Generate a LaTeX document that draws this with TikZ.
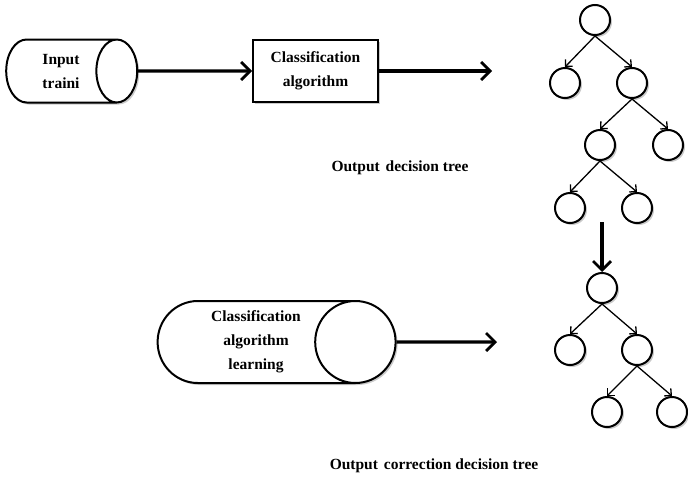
\documentclass[tikz,border=0pt]{standalone}
\usepackage{fontspec}
\setmainfont{Liberation Serif}
\usetikzlibrary{shapes.geometric, arrows.meta, shadows}

\begin{document}
\begin{tikzpicture}[x = 1pt, y = -1pt,
    every node/.style = {font = \fontsize{15.5}{24}\selectfont\bfseries, align = center},
    shadowed/.style = {drop shadow = {shadow xshift = 2pt, shadow yshift = -2pt, fill = black!35, opacity = 0.6}},
    drum/.style = {cylinder, draw, line width = 2pt, fill = white, shadowed, inner sep = 0pt},
    algo/.style = {rectangle, draw, line width = 2pt, fill = white, shadowed, minimum width = 125pt, minimum height = 62pt},
    leaf/.style = {circle, draw, line width = 2pt, fill = white, shadowed, minimum size = 30pt, inner sep = 0pt},
    flow/.style = {line width = 3.2pt, -{Straight Barb[length = 9pt, width = 18pt, line width = 2.8pt]}},
    branch/.style = {line width = 1.3pt, -{Straight Barb[length = 5pt, width = 10pt]}}]
    \useasboundingbox (0,0) rectangle (688,477);

    % Blocks
    \node[drum, minimum width = 63pt, minimum height = 131pt, shape aspect = 1.19] (input) at (61,71) {Input\\traini};
    \node[algo] (classify) at (315.5,71) {Classification\\algorithm};
    \node[drum, minimum width = 82pt, minimum height = 238pt, shape aspect = 1.29] (learn) at (256,342) {Classification\\algorithm\\learning};

    % First tree
    \node[leaf] (r1) at (595,20) {};
    \node[leaf] (a1) at (565,83) {};
    \node[leaf] (b1) at (632,83) {};
    \node[leaf] (c1) at (600,145) {};
    \node[leaf] (d1) at (668,145) {};
    \node[leaf] (e1) at (570,208) {};
    \node[leaf] (f1) at (637,208) {};

    % Second tree
    \node[leaf] (r2) at (602,288) {};
    \node[leaf] (a2) at (570,350) {};
    \node[leaf] (b2) at (637,350) {};
    \node[leaf] (c2) at (607,412) {};
    \node[leaf] (d2) at (672,412) {};

    % Branches
    \foreach \p/\c in {r1/a1, r1/b1, b1/c1, b1/d1, c1/e1, c1/f1, r2/a2, r2/b2, b2/c2, b2/d2}
        \draw[branch] (\p.south) -- (\c.north);

    % Arrows
    \coordinate (tree1) at (492,71);
    \coordinate (tree2) at (497,342);
    \coordinate (fix) at (602,222);
    \draw[flow] (input) -- (classify);
    \draw[flow] (classify) -- (tree1);
    \draw[flow] (learn) -- (tree2);
    \draw[flow] (fix) -- (r2);

    % Captions
    \node (cap1) at (400,168) {Output\hspace{2pt} decision tree};
    \node (cap2) at (434,466) {Output\hspace{2pt} correction decision tree};
\end{tikzpicture}
\end{document}
